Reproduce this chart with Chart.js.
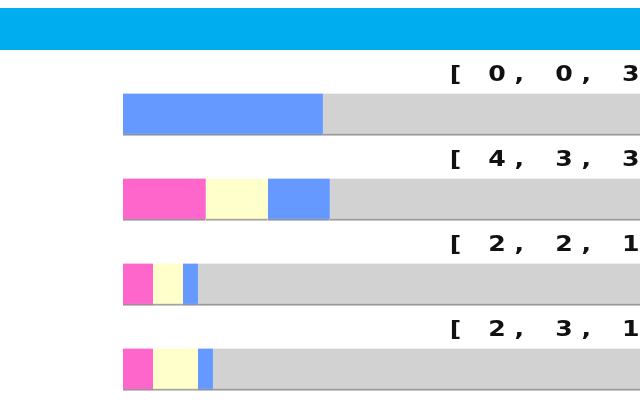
<!DOCTYPE html>
<html>
<head>
<meta charset="utf-8">
<script src="https://cdn.jsdelivr.net/npm/chart.js@4"></script>
<style>
  html, body { margin: 0; padding: 0; background: #fff; width: 640px; height: 400px; overflow: hidden; }
  #header { position: absolute; left: 0; top: 8px; width: 640px; height: 42px; background: #00aeef; }
  #wrap { position: absolute; left: 0; top: 0; width: 640px; height: 420px; }
</style>
</head>
<body>
<div id="wrap"><canvas id="pollChart"></canvas></div>
<div id="header"></div>
<script>
// one row per question, counts per answer colour
const rows = ["1", "2", "3", "4"];
const pinkVotes = [0, 4, 2, 2];
const yellowVotes = [0, 3, 2, 3];
const blueVotes = [3, 3, 1, 1];
// total answers per row (the rest of the bar is grey)
const rowTotals = [9, 29, 40, 40];

function pct(vals) {
  return vals.map(function (v, i) { return v / rowTotals[i] * 100; });
}

// label text like "[ 0, 0, 3, ..." (runs off the right edge)
const rowLabels = rows.map(function (r, i) {
  return "[ " + [pinkVotes[i], yellowVotes[i], blueVotes[i]].join(", ") + ", ";
});

const restPct = rows.map(function (r, i) {
  return 100 - (pinkVotes[i] + yellowVotes[i] + blueVotes[i]) / rowTotals[i] * 100;
});

// draws the label one character per fixed-width cell, a bit stretched
const labelPlugin = {
  id: "rowLabels",
  afterDatasetsDraw: function (chart) {
    const ctx = chart.ctx;
    const meta = chart.getDatasetMeta(0);
    const cell = 22.3;
    ctx.save();
    ctx.font = "bold 21px 'DejaVu Sans'";
    ctx.fillStyle = "#111";
    ctx.textBaseline = "alphabetic";
    ctx.textAlign = "center";
    meta.data.forEach(function (bar, i) {
      const p = bar.getProps(["y", "height"], true);
      const chars = rowLabels[i].split("");
      chars.forEach(function (ch, k) {
        const dx = ch === "[" ? 3 : 0;
        ctx.save();
        ctx.translate(452.4 + k * cell + dx, p.y - p.height / 2 - 13);
        ctx.scale(1.2, 1);
        ctx.fillText(ch, 0, 0);
        ctx.restore();
      });
    });
    ctx.restore();
  }
};

const barStyle = {
  borderWidth: { top: 0, left: 0, right: 0, bottom: 2 },
  borderSkipped: false,
  barThickness: 42
};

new Chart(document.getElementById("pollChart"), {
  type: "bar",
  data: {
    labels: rows,
    datasets: [
      Object.assign({ data: pct(pinkVotes), backgroundColor: "#ff66cc", borderColor: "#a8889c" }, barStyle),
      Object.assign({ data: pct(yellowVotes), backgroundColor: "#ffffcc", borderColor: "#a4a49a" }, barStyle),
      Object.assign({ data: pct(blueVotes), backgroundColor: "#6699ff", borderColor: "#8894ac" }, barStyle),
      Object.assign({ data: restPct, backgroundColor: "#d2d2d2", borderColor: "#9a9a9a" }, barStyle)
    ]
  },
  options: {
    indexAxis: "y",
    responsive: true,
    maintainAspectRatio: false,
    animation: false,
    layout: { padding: { top: 72, bottom: 8, left: 123, right: 0 } },
    plugins: { legend: { display: false }, tooltip: { enabled: false } },
    scales: {
      x: { stacked: true, display: false, min: 0, max: 86.2 },
      y: { stacked: true, display: false }
    }
  },
  plugins: [labelPlugin]
});
</script>
</body>
</html>
